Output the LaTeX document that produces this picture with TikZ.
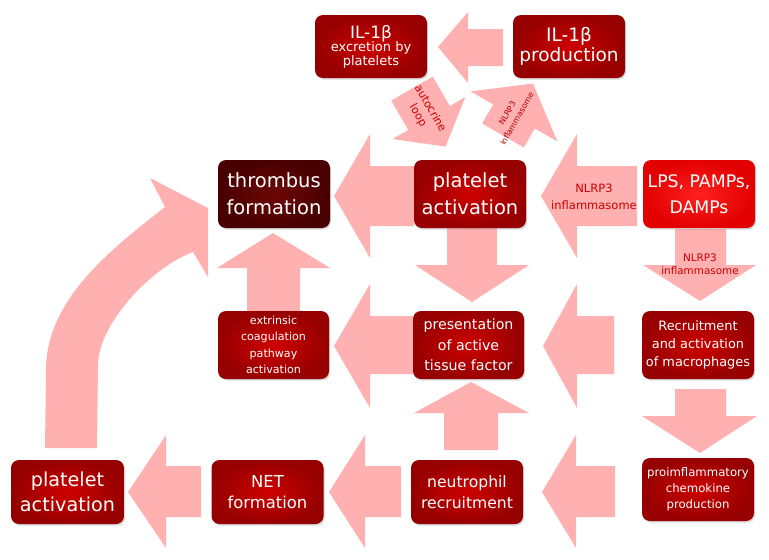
\documentclass[tikz,border=0pt]{standalone}
\usepackage{fontspec}
\setmainfont{DejaVu Sans}
\usetikzlibrary{shadows}
\definecolor{apink}{RGB}{255,176,176}
\definecolor{boxin}{RGB}{206,0,0}
\definecolor{boxout}{RGB}{150,0,0}
\definecolor{thin}{RGB}{110,6,6}
\definecolor{thout}{RGB}{72,0,0}
\definecolor{lpsin}{RGB}{255,32,32}
\definecolor{lpsout}{RGB}{226,0,0}
\definecolor{lbl}{RGB}{205,0,0}
\newcommand\fs[2]{\fontsize{#1}{#2}\selectfont}
\begin{document}
\begin{tikzpicture}[x=1pt,y=-1pt,
  barrow/.style={fill=apink, draw=none},
  rbox/.style={rounded corners=8pt, minimum width=112pt, minimum height=68pt,
    inner sep=0pt, align=center, text=white, inner color=boxin, outer color=boxout,
    drop shadow={shadow xshift=1.2pt, shadow yshift=-1.6pt, opacity=0.3}},
  thbox/.style={rbox, inner color=thin, outer color=thout},
  lpsbox/.style={rbox, inner color=lpsin, outer color=lpsout},
  albl/.style={text=lbl, align=center, inner sep=0pt}]
\useasboundingbox (0,0) rectangle (769,560);

% ---- block arrows ----
% row 1
\fill[barrow] (503,29) -- (468,29) -- (468,12) -- (438,47) -- (468,83) -- (468,66) -- (503,66) -- cycle;
% autocrine loop (diagonal)
\fill[barrow] (391.2,100.6) -- (432.8,76.6) -- (449.8,106) -- (465.4,97) -- (445.5,146.6) -- (392.6,139) -- (408.2,130) -- cycle;
% NLRP3 diagonal
\fill[barrow] (482.2,123.5) -- (493.2,104.4) -- (470.7,91.4) -- (533,83.5) -- (557.3,141.4) -- (534.8,128.4) -- (523.8,147.5) -- cycle;
% row 2
\fill[barrow] (414,166) -- (370,166) -- (370,134) -- (334,196) -- (370,258) -- (370,226) -- (414,226) -- cycle;
\fill[barrow] (637,166) -- (577,166) -- (577,134) -- (541,196) -- (577,258) -- (577,226) -- (637,226) -- cycle;
% downward arrows row 2 -> 3
\fill[barrow] (447,228) -- (447,265) -- (415,265) -- (472,302) -- (529,265) -- (497,265) -- (497,228) -- cycle;
\fill[barrow] (675,229) -- (675,265) -- (643,265) -- (700,301) -- (756,265) -- (726,265) -- (726,229) -- cycle;
% up arrow extrinsic -> thrombus
\fill[barrow] (247,311) -- (247,268) -- (217,268) -- (273,233) -- (330,268) -- (300,268) -- (300,311) -- cycle;
% row 3
\fill[barrow] (413,316) -- (370,316) -- (370,284) -- (334,346) -- (370,408) -- (370,374) -- (413,374) -- cycle;
\fill[barrow] (614,316) -- (577,316) -- (577,284) -- (543,346) -- (577,408) -- (577,374) -- (614,374) -- cycle;
% down recruitment -> proinflammatory
\fill[barrow] (675,389) -- (675,416) -- (642,416) -- (700,453) -- (757,416) -- (726,416) -- (726,389) -- cycle;
% up neutrophil -> presentation
\fill[barrow] (444,450) -- (444,413) -- (414,413) -- (471,382) -- (529,413) -- (498,413) -- (498,450) -- cycle;
% row 4
\fill[barrow] (615,466) -- (576,466) -- (576,435) -- (542,492) -- (576,548) -- (576,517) -- (615,517) -- cycle;
\fill[barrow] (401,466) -- (365,466) -- (365,435) -- (329,492) -- (365,548) -- (365,517) -- (401,517) -- cycle;
\fill[barrow] (201,466) -- (166,466) -- (166,435) -- (128,492) -- (166,548) -- (166,517) -- (201,517) -- cycle;
% curved arrow platelet activation -> thrombus
\fill[barrow] (45,448) -- (46,370) .. controls (46,300) and (110,250) .. (165,207)
  -- (150,178) -- (208,208) -- (208,277) -- (193,252)
  .. controls (150,268) and (98,325) .. (98,365) -- (97,448) -- cycle;

% ---- arrow labels ----
\node[albl, font=\fs{11.5}{17}] (l1) at (594,197) {NLRP3\\inflammasome};
\node[albl, font=\fs{10.4}{13.5}] (l2) at (700,264) {NLRP3\\inflammasome};
\node[albl, font=\fs{11}{14}, rotate=-60] (l3) at (424,112) {autocrine\\loop};
\node[albl, font=\fs{8}{11}, rotate=60, text={rgb,255:red,180;green,0;blue,0}] (l4) at (512,116) {NLRP3\\inflammasome};

% ---- boxes ----
\node[rbox, minimum height=63pt] (ilex) at (371,46.5)
  {{\fs{17}{19}IL-1β}\\[-1pt]{\fs{13}{15}excretion by}\\{\fs{13}{15}platelets}};
\node[rbox, minimum height=63pt, font=\fs{18.5}{20}] (ilprod) at (569,46.5) {IL-1β\\production};
\node[thbox, font=\fs{19.5}{27}] (thromb) at (274,194) {thrombus\\formation};
\node[rbox, font=\fs{19.5}{27}] (pact) at (470,194) {platelet\\activation};
\node[lpsbox, font=\fs{17.3}{26}] (lps) at (699,194) {LPS, PAMPs,\\DAMPs};
\node[rbox, minimum width=111pt, font=\fs{11.1}{16.5}] (extr) at (273.5,345) {extrinsic\\coagulation\\pathway\\activation};
\node[rbox, minimum width=111pt, font=\fs{14.2}{20.5}] (pres) at (468.5,345) {presentation\\of active\\tissue factor};
\node[rbox, font=\fs{12.9}{18}] (recr) at (698,345) {Recruitment\\and activation\\of macrophages};
\node[rbox, minimum width=113pt, minimum height=64pt, font=\fs{19.2}{24.5}] (pactb) at (67.5,492) {platelet\\activation};
\node[rbox, minimum height=64pt, font=\fs{16.4}{20.5}] (net) at (267.5,492) {NET\\formation};
\node[rbox, minimum height=64pt, font=\fs{15.6}{20.5}] (neut) at (467,492) {neutrophil\\recruitment};
\node[rbox, minimum height=63pt, font=\fs{11.7}{16}] (proinf) at (698,489.5) {proimflammatory\\chemokine\\production};
\end{tikzpicture}
\end{document}
